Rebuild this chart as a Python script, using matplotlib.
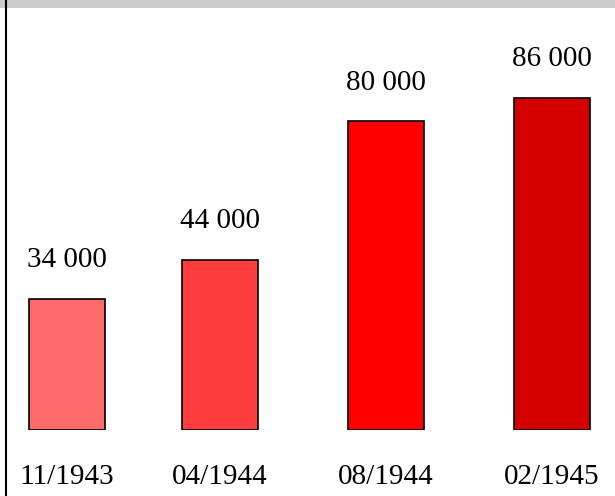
import matplotlib.pyplot as plt
from matplotlib.patches import Rectangle
from matplotlib.lines import Line2D

# data
periods = ['11/1943', '04/1944', '08/1944', '02/1945']
counts = [34000, 44000, 80000, 86000]
colors = ['#ff6a6a', '#ff3c40', '#ff0000', '#d40000']

# layout (slot positions of the bars)
slot_x = [0.0, 0.92, 1.92, 2.92]

plt.rcParams['font.family'] = ['Liberation Serif', 'DejaVu Serif']

fig = plt.figure(figsize=(6.15, 4.96), dpi=100)
ax = fig.add_axes([0, 66 / 496, 1, 430 / 496])

ax.bar(slot_x, counts, width=0.458, color=colors, edgecolor='black', linewidth=1.2)

for x, v in zip(slot_x, counts):
    ax.annotate(f'{v:,}'.replace(',', ' '), xy=(x, v), xytext=(0, 23),
                textcoords='offset points', ha='center', va='baseline', fontsize=21)

ax.set_xlim(-0.404, 3.301)
ax.set_ylim(0, 111500)
ax.set_xticks(slot_x, periods)
ax.set_yticks([])
ax.tick_params(axis='x', length=0, pad=39.0, labelsize=21)
plt.setp(ax.get_xticklabels(), va='baseline')
for s in ax.spines.values():
    s.set_visible(False)

# grey band on top and black line on the left
fig.patches.append(Rectangle((0, 488.5 / 496), 1, 7.5 / 496, transform=fig.transFigure,
                             facecolor='#cccccc', edgecolor='none', zorder=0))
fig.lines.append(Line2D([6 / 615, 6 / 615], [0, 1], transform=fig.transFigure,
                        color='black', linewidth=1.5))

fig.savefig('out.png', dpi=100)
